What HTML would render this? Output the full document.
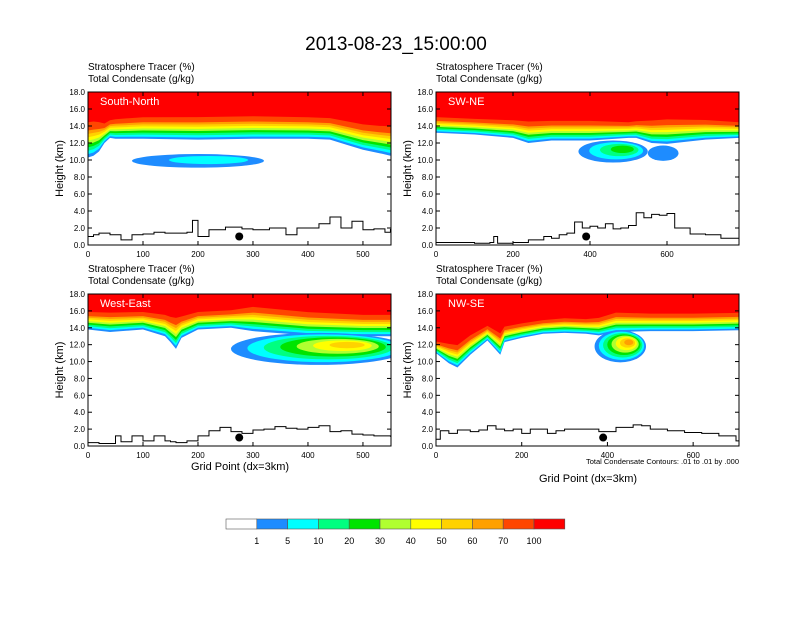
<!DOCTYPE html>
<html><head><meta charset="utf-8"><style>
body{margin:0;background:#fff}
svg text{font-family:"Liberation Sans",sans-serif}
</style></head><body>
<svg id="chart" width="792" height="612" xmlns="http://www.w3.org/2000/svg">
<defs id="defs"></defs>
<text x="396" y="50" font-size="19" text-anchor="middle">2013-08-23_15:00:00</text>
<g id="panels"></g>
<g id="colorbar"></g>
<text x="240" y="470" font-size="11" text-anchor="middle">Grid Point (dx=3km)</text>
<text x="588" y="482" font-size="11" text-anchor="middle">Grid Point (dx=3km)</text>
<text x="739" y="464" font-size="7.5" text-anchor="end">Total Condensate Contours: .01 to .01 by .000</text>
</svg>
<script>
const levelColors=["#ffffff","#1e8cff","#00ffff","#00ff80","#00e400","#b0ff30","#ffff00","#ffd200","#ffa000","#ff4600","#ff0000"];
const levelLabels=["1","5","10","20","30","40","50","60","70","100"];
const levelFrac=[0,0.11,0.22,0.33,0.44,0.55,0.66,0.77,0.88,1.15];
const yTicks=[0,2,4,6,8,10,12,14,16,18];

const tlX=[0,10,20,30,40,50,100,200,300,400,440,470,500,530,550];
const tlBase=[10.3,10.5,11.0,12.0,12.6,12.5,12.5,12.4,12.5,12.5,12.4,11.8,11.2,10.8,10.5];
const tlThick=[3.6,3.5,3.0,2.0,1.8,2.0,2.2,2.3,2.3,2.2,2.2,2.4,2.6,2.8,3.0];
const tlTerrX=[0,10,20,40,60,80,100,120,140,160,180,190,200,220,250,280,300,330,360,380,400,420,440,460,480,500,520,540,550];
const tlTerr=[1.0,1.2,1.4,1.2,0.6,1.2,1.3,1.5,1.4,1.4,1.5,2.9,1.0,1.8,2.1,1.9,1.8,2.0,1.2,2.0,2.0,2.5,3.3,2.0,2.8,1.8,1.9,1.5,1.9];

const trX=[0,100,200,240,300,400,500,520,560,600,700,787];
const trBase=[13.2,13.0,12.6,12.0,12.3,12.3,12.6,12.6,12.0,11.9,12.4,12.6];
const trThick=[1.6,1.6,1.8,2.2,2.0,2.0,1.6,1.7,2.3,2.5,2.0,1.6];
const trTerrX=[0,50,100,140,150,160,200,240,280,300,320,340,360,380,400,420,440,460,480,500,520,540,560,580,600,620,660,700,740,787];
const trTerr=[0.3,0.3,0.2,0.3,1.0,0.2,0.3,0.6,1.0,0.8,1.2,1.4,2.7,2.0,2.2,2.0,2.5,1.9,2.0,2.3,3.8,3.2,3.6,3.5,3.7,2.0,1.3,1.2,0.8,0.7];

const blX=[0,40,100,140,150,160,170,200,260,300,400,500,550];
const blBase=[13.8,13.5,13.8,13.0,12.3,11.5,12.8,13.8,14.0,13.6,13.1,13.0,13.0];
const blThick=[1.8,2.0,1.8,2.2,2.6,3.2,2.2,1.8,1.8,2.5,2.4,2.2,2.2];
const blTerrX=[0,20,40,50,60,80,100,120,140,150,160,180,200,220,240,260,280,300,320,340,360,380,400,420,440,460,480,500,520,550];
const blTerr=[0.4,0.3,0.3,1.2,0.5,1.2,0.6,1.2,0.6,0.5,0.4,0.6,1.2,1.8,2.2,1.7,1.5,1.9,2.0,2.3,2.1,2.0,2.2,2.4,1.7,1.8,1.4,1.3,1.2,1.1];

const brX=[0,30,50,80,120,150,160,200,250,300,350,380,420,500,600,707];
const brBase=[11.0,9.8,9.3,10.8,12.5,10.8,12.3,12.8,13.3,13.4,13.3,13.1,13.5,13.6,13.6,13.7];
const brThick=[1.2,2.0,2.3,2.0,1.5,2.2,1.6,1.5,1.4,1.5,1.5,1.8,2.0,1.8,1.8,1.8];
const brTerrX=[0,10,30,50,80,100,120,140,160,180,200,220,240,260,280,300,340,380,420,460,480,500,540,580,620,660,700,707];
const brTerr=[0.8,1.8,1.5,1.9,1.7,1.9,2.4,2.0,1.8,2.0,1.5,2.0,2.0,1.5,1.8,2.0,2.0,1.7,2.2,2.5,2.4,2.0,1.8,1.6,1.5,1.2,0.6,0.5];

// tongues: [cx, cy(km), rx, ry(km), levels]
const tlBlobs=[[200,9.9,120,0.8,2]];
const trBlobs=[[460,11.0,90,1.3,4],[590,10.8,40,0.9,1]];
const blBlobs=[[420,11.5,160,1.9,7]];
const brBlobs=[[430,11.8,60,1.9,8]];

const panels=[
 {name:"south-north",label:"South-North",x0:88,y0:92,w:303,h:153,xmax:551,xt:[0,100,200,300,400,500],xs:tlX,base:tlBase,th:tlThick,tx:tlTerrX,tv:tlTerr,blobs:tlBlobs,dot:275},
 {name:"sw-ne",label:"SW-NE",x0:436,y0:92,w:303,h:153,xmax:787,xt:[0,200,400,600],xs:trX,base:trBase,th:trThick,tx:trTerrX,tv:trTerr,blobs:trBlobs,dot:390},
 {name:"west-east",label:"West-East",x0:88,y0:294,w:303,h:152,xmax:551,xt:[0,100,200,300,400,500],xs:blX,base:blBase,th:blThick,tx:blTerrX,tv:blTerr,blobs:blBlobs,dot:275},
 {name:"nw-se",label:"NW-SE",x0:436,y0:294,w:303,h:152,xmax:707,xt:[0,200,400,600],xs:brX,base:brBase,th:brThick,tx:brTerrX,tv:brTerr,blobs:brBlobs,dot:390}
];
const NS="http://www.w3.org/2000/svg";
function mk(tag,attrs,parent){const e=document.createElementNS(NS,tag);for(const k in attrs)e.setAttribute(k,attrs[k]);parent.appendChild(e);return e;}
const root=document.getElementById('panels');
const defs=document.getElementById('defs');
panels.forEach((p,pi)=>{
 const g=mk('g',{},root);
 
 
 const cp=mk('clipPath',{id:'clip'+pi},defs);
 mk('rect',{x:p.x0,y:p.y0,width:p.w,height:p.h},cp);
 const sx=v=>p.x0+v/p.xmax*p.w, sy=v=>p.y0+p.h-v/18*p.h;
 const h1=mk('text',{x:p.x0,y:p.y0-22,'font-size':10},g);h1.textContent="Stratosphere Tracer   (%)";
 
 const h2=mk('text',{x:p.x0,y:p.y0-10,'font-size':10},g);h2.textContent="Total Condensate   (g/kg)";
 
 const cg=mk('g',{'clip-path':'url(#clip'+pi+')'},g);
 for(let k=1;k<=10;k++){
  let d="M"+sx(0)+","+sy(18);
  p.xs.forEach((x,i)=>{d+=" L"+sx(x)+","+sy(Math.min(18,p.base[i]+p.th[i]*levelFrac[k-1]));});
  d+=" L"+sx(p.xmax)+","+sy(18)+"Z";
  const b=mk('path',{d:d,fill:levelColors[k]},cg);
  
 }
 p.blobs.forEach(bl=>{
  for(let k=1;k<=bl[4];k++){
   const f=1-(k-1)/(bl[4]+0.5);
   const e=mk('ellipse',{cx:sx(bl[0]+bl[2]*(1-f)*0.4),cy:sy(bl[1]+bl[3]*(1-f)*0.3),rx:bl[2]*f/p.xmax*p.w,ry:bl[3]*f/18*p.h,fill:levelColors[k]},cg);
   
  }
 });
 let d="";p.tx.forEach((x,i)=>{d+=(i?" H"+sx(x)+" V":"M"+sx(x)+",")+sy(p.tv[i]);});
 const t=mk('path',{d:d,fill:'none',stroke:'#000','stroke-width':1},cg);
 
 const dot=mk('circle',{cx:sx(p.dot),cy:sy(1.0),r:4,fill:'#000'},g);
 
 const fr=mk('rect',{x:p.x0,y:p.y0,width:p.w,height:p.h,fill:'none',stroke:'#000','stroke-width':1},g);
 
 const lb=mk('text',{x:p.x0+12,y:p.y0+13,'font-size':11,fill:'#fff'},g);lb.textContent=p.label;
 
 yTicks.forEach(v=>{
  mk('line',{x1:p.x0,x2:p.x0+4,y1:sy(v),y2:sy(v),stroke:'#000'},g);
  mk('line',{x1:p.x0+p.w,x2:p.x0+p.w-4,y1:sy(v),y2:sy(v),stroke:'#000'},g);
  const tt=mk('text',{x:p.x0-3,y:sy(v)+3,'font-size':8,'text-anchor':'end'},g);tt.textContent=v.toFixed(1);
  
 });
 p.xt.forEach(v=>{
  mk('line',{x1:sx(v),x2:sx(v),y1:p.y0+p.h,y2:p.y0+p.h-4,stroke:'#000'},g);
  mk('line',{x1:sx(v),x2:sx(v),y1:p.y0,y2:p.y0+4,stroke:'#000'},g);
  const tt=mk('text',{x:sx(v),y:p.y0+p.h+12,'font-size':8,'text-anchor':'middle'},g);tt.textContent=v;
  
 });
 const yl=mk('text',{x:0,y:0,'font-size':11,'text-anchor':'middle',transform:`translate(${p.x0-25},${p.y0+p.h/2}) rotate(-90)`},g);yl.textContent="Height (km)";
 
});
const cb=document.getElementById('colorbar');
const cw=30.8;
levelColors.forEach((c,i)=>{
 const r=mk('rect',{x:226+i*cw,y:519,width:cw,height:10,fill:c,stroke:'#555','stroke-width':0.6},cb);
 
});
levelLabels.forEach((l,i)=>{
 const t=mk('text',{x:226+(i+1)*cw,y:544,'font-size':9,'text-anchor':'middle'},cb);t.textContent=l;
 
});
</script>
</body></html>
